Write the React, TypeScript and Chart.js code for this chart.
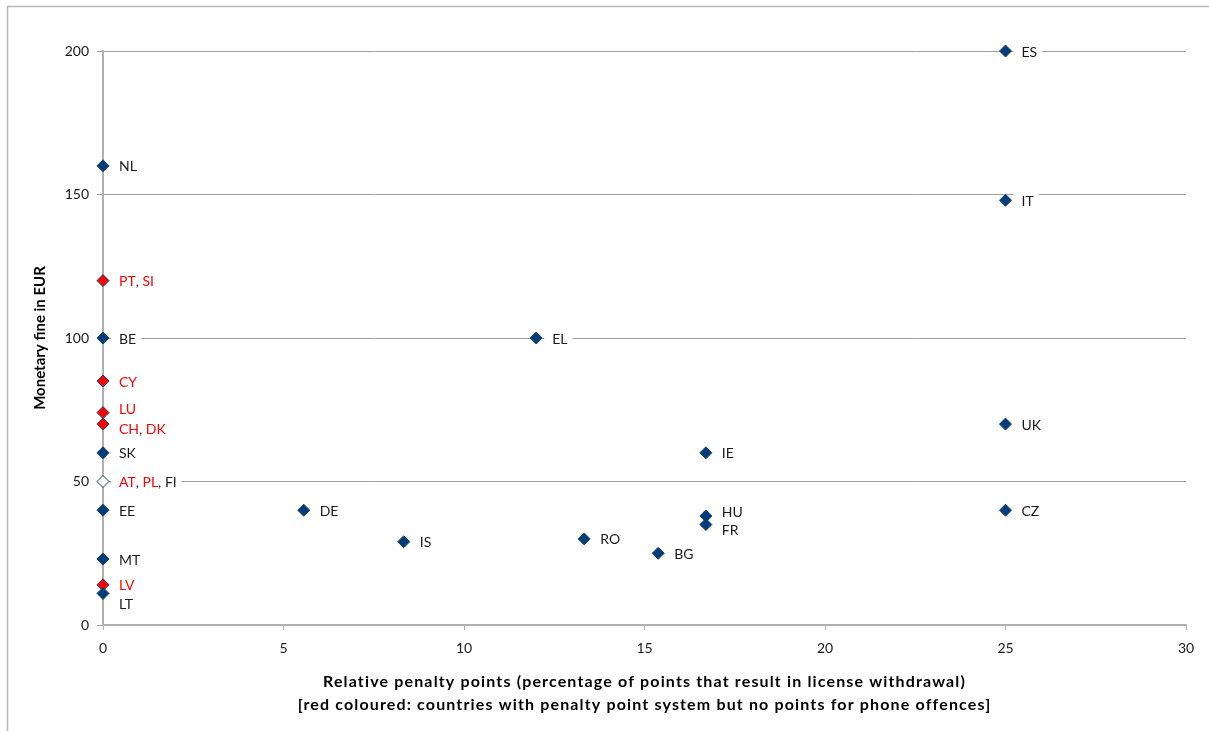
import React, { useEffect, useRef } from "react";
import { Chart, registerables } from "chart.js";

Chart.register(...registerables);

// ---- data ----
const countryLabels = [
  "ES", "NL", "IT", "PT, SI", "BE", "EL", "CY", "LU", "CH, DK", "UK", "SK", "IE",
  "AT, PL, FI", "EE", "DE", "CZ", "HU", "FR", "IS", "RO", "BG", "MT", "LV", "LT",
];
const penaltyPct = [
  25, 0, 25, 0, 0, 12, 0, 0, 0, 25, 0, 16.7,
  0, 0, 5.56, 25, 16.7, 16.7, 8.33, 13.33, 15.38, 0, 0, 0,
];
const fineEur = [
  200, 160, 148, 120, 100, 100, 85, 74, 70, 70, 60, 60,
  50, 40, 40, 40, 38, 35, 29, 30, 25, 23, 14, 11,
];
// countries with penalty point system but no points for phone offences
const noPhonePoints = ["PT", "SI", "CY", "LU", "CH", "DK", "AT", "PL", "LV"];

const xTicks = [0, 5, 10, 15, 20, 25, 30];
const yTicks = [0, 50, 100, 150, 200];

const yTitle = "Monetary fine in EUR";
const xTitleLines = [
  "Relative penalty points (percentage of points that result in license withdrawal)",
  "[red coloured: countries with penalty point system but no points for phone offences]",
];

// label nudges (pixels) for overlapping labels
const labelNudge: Record<string, number> = { LU: -4, "CH, DK": 4, HU: -4, FR: 5, LT: 10 };

// ---- styles ----
const BLUE = "#003d79";
const BLUE_EDGE = "#1c3f6e";
const RED = "#ff0000";
const TEXT = "#1a1a1a";
const FONT = "Lato, 'Open Sans', sans-serif";

function markerFill(label: string) {
  const parts = label.split(", ");
  const reds = parts.filter((p) => noPhonePoints.includes(p)).length;
  if (reds === 0) return BLUE;
  if (reds === parts.length) return RED;
  return "#ffffff";
}

const labelPlugin = {
  id: "pointLabels",
  beforeDraw(chart: any) {
    const ctx = chart.ctx;
    ctx.save();
    ctx.strokeStyle = "#b8b8b8";
    ctx.lineWidth = 1.5;
    ctx.beginPath();
    ctx.moveTo(7.5, 731);
    ctx.lineTo(7.5, 6.5);
    ctx.lineTo(1209, 6.5);
    ctx.stroke();
    ctx.restore();
  },
  afterDatasetsDraw(chart: any) {
    const ctx = chart.ctx;
    const meta = chart.getDatasetMeta(0);
    ctx.save();
    ctx.font = `14px ${FONT}`;
    ctx.textBaseline = "middle";
    countryLabels.forEach((label, i) => {
      const el = meta.data[i];
      if (!el) return;
      const px = el.x;
      const py = el.y;
      const ty = py + 1 + (labelNudge[label] || 0);
      const tx = px + 16;
      const parts = label.split(", ");
      const segs: { t: string; c: string }[] = [];
      parts.forEach((p, k) => {
        segs.push({ t: p, c: noPhonePoints.includes(p) ? RED : TEXT });
        if (k < parts.length - 1) segs.push({ t: ", ", c: TEXT });
      });
      const w = segs.reduce((s, sg) => s + ctx.measureText(sg.t).width, 0);
      ctx.fillStyle = "#ffffff";
      ctx.fillRect(px + 8, ty - 8, tx - px - 8 + w + 5, 16);
      let cx = tx;
      segs.forEach((sg) => {
        ctx.fillStyle = sg.c;
        ctx.textAlign = "left";
        ctx.fillText(sg.t, cx, ty);
        cx += ctx.measureText(sg.t).width;
      });
    });
    ctx.restore();
  },
  afterDraw(chart: any) {
    const ctx = chart.ctx;
    const area = chart.chartArea;
    ctx.save();
    ctx.fillStyle = "#000000";
    // fit the x title to the reference width
    const baseSize = 16;
    ctx.font = `bold ${baseSize}px ${FONT}`;
    const wBase = ctx.measureText(xTitleLines[0]).width;
    const targetW = 643;
    const extra = (targetW - wBase) / xTitleLines[0].length;
    ctx.textAlign = "center";
    ctx.textBaseline = "middle";
    try {
      (ctx as any).letterSpacing = `${Math.max(0, extra).toFixed(2)}px`;
    } catch (e) {}
    const cx = (area.left + area.right) / 2;
    ctx.fillText(xTitleLines[0], cx, 682);
    ctx.fillText(xTitleLines[1], cx, 705);
    try {
      (ctx as any).letterSpacing = "0px";
    } catch (e) {}
    ctx.font = `bold 15px ${FONT}`;
    ctx.translate(40, (area.top + area.bottom) / 2);
    ctx.rotate(-Math.PI / 2);
    ctx.fillText(yTitle, 0, 0);
    ctx.restore();
  },
};

export default function App() {
  const ref = useRef<HTMLCanvasElement>(null);
  useEffect(() => {
    if (!ref.current) return;
    const data = countryLabels.map((_, i) => ({ x: penaltyPct[i], y: fineEur[i] }));
    const chart = new Chart(ref.current, {
      type: "scatter",
      data: {
        datasets: [
          {
            label: "countries",
            data,
            pointStyle: "rectRot",
            pointRadius: 6,
            pointHoverRadius: 6,
            pointBackgroundColor: countryLabels.map(markerFill),
            pointBorderColor: BLUE_EDGE,
            pointBorderWidth: 1,
            clip: false as any,
          },
        ],
      },
      options: {
        animation: false,
        responsive: false,
        devicePixelRatio: 1,
        events: [],
        layout: { padding: { left: 0, top: 51, right: 23, bottom: 0 } },
        plugins: { legend: { display: false }, tooltip: { enabled: false } },
        scales: {
          x: {
            type: "linear",
            min: 0,
            max: 30,
            afterBuildTicks: (s: any) => {
              s.ticks = xTicks.map((v) => ({ value: v }));
            },
            afterFit: (s: any) => {
              s.height = 106;
            },
            ticks: { color: TEXT, font: { family: FONT, size: 14 }, padding: 10 },
            grid: { drawOnChartArea: false, drawTicks: true, tickLength: 5, color: "#b0b0b0" },
            border: { color: "#b0b0b0", width: 2 },
          },
          y: {
            type: "linear",
            min: 0,
            max: 200,
            afterBuildTicks: (s: any) => {
              s.ticks = yTicks.map((v) => ({ value: v }));
            },
            afterFit: (s: any) => {
              s.width = 103;
            },
            ticks: { color: TEXT, font: { family: FONT, size: 14 }, padding: 8 },
            grid: { drawOnChartArea: true, drawTicks: true, tickLength: 6, color: "#a0a0a0", lineWidth: 1 },
            border: { color: "#b0b0b0", width: 2 },
          },
        },
      },
      plugins: [labelPlugin],
    });
    return () => chart.destroy();
  }, []);
  return (
    <div style={{ position: "fixed", left: 0, top: 0, width: 1209, height: 731, background: "#fff" }}>
      <canvas ref={ref} width={1209} height={731} />
    </div>
  );
}
